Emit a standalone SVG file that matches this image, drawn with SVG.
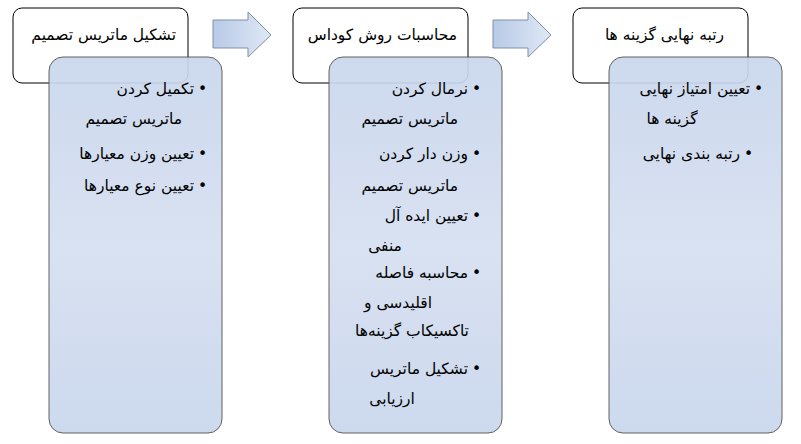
<svg xmlns="http://www.w3.org/2000/svg" width="801" height="444" viewBox="0 0 801 444">
<defs>
<linearGradient id="bg" x1="0" y1="0" x2="0" y2="1"><stop offset="0" stop-color="#c9d6ec"/><stop offset="0.5" stop-color="#d6e0f1"/><stop offset="1" stop-color="#c9d6ec"/></linearGradient>
<linearGradient id="ag" x1="0" y1="0" x2="1" y2="0"><stop offset="0" stop-color="#b8cae6"/><stop offset="1" stop-color="#dfe8f5"/></linearGradient>
<style>
.hd{fill:#fff;stroke:#000;stroke-width:1}
.bl{fill:url(#bg);stroke:#555;stroke-width:1;opacity:0.92}
.ar{fill:url(#ag);stroke:#7f8fa8;stroke-width:1}
text{font-family:"DejaVu Sans",sans-serif;font-size:15.5px;fill:#000}
.e{text-anchor:end}.m{text-anchor:middle}
</style>
</defs>
<g id="connectors">
<path class="ar" d="M213,20 H248 V12 L271,35 L248,57 V48 H213 Z"/>
<path class="ar" d="M493,20 H528 V12 L551,35 L528,57 V48 H493 Z"/>
</g>
<g id="col1">
<rect class="hd" x="13" y="8" width="175" height="75" rx="9"/>
<text class="e" x="176" y="40">تشکیل ماتریس تصمیم</text>
<rect class="bl" x="49" y="57" width="173" height="376" rx="14"/>
<text x="198" y="94">•</text><text class="e" x="194" y="94">تکمیل کردن</text>
<text class="e" x="182" y="124">ماتریس تصمیم</text>
<text x="198" y="159">•</text><text class="e" x="194" y="159">تعیین وزن معیارها</text>
<text x="198" y="191">•</text><text class="e" x="194" y="191">تعیین نوع معیارها</text>
</g>
<g id="col2">
<rect class="hd" x="293" y="8" width="175" height="75" rx="9"/>
<text class="e" x="457" y="40">محاسبات روش کوداس</text>
<rect class="bl" x="329" y="57" width="173" height="376" rx="14"/>
<text x="472" y="94">•</text><text class="e" x="468" y="94">نرمال کردن</text>
<text class="e" x="458" y="124">ماتریس تصمیم</text>
<text x="472" y="159">•</text><text class="e" x="468" y="159">وزن دار کردن</text>
<text class="e" x="458" y="191">ماتریس تصمیم</text>
<text x="472" y="221">•</text><text class="e" x="468" y="221">تعیین ایده آل</text>
<text class="m" x="385" y="251">منفی</text>
<text x="472" y="278">•</text><text class="e" x="468" y="278">محاسبه فاصله</text>
<text class="m" x="398" y="308">اقلیدسی و</text>
<text class="m" x="412" y="336">تاکسیکاب گزینه‌ها</text>
<text x="472" y="374">•</text><text class="e" x="468" y="374">تشکیل ماتریس</text>
<text class="m" x="392" y="404">ارزیابی</text>
</g>
<g id="col3">
<rect class="hd" x="573" y="8" width="175" height="75" rx="9"/>
<text class="e" x="724" y="40">رتبه نهایی گزینه ها</text>
<rect class="bl" x="609" y="57" width="173" height="376" rx="14"/>
<text x="754" y="94">•</text><text class="e" x="750" y="94">تعیین امتیاز نهایی</text>
<text class="m" x="672" y="124">گزینه ها</text>
<text x="744" y="159">•</text><text class="e" x="740" y="159">رتبه بندی نهایی</text>
</g>
</svg>
